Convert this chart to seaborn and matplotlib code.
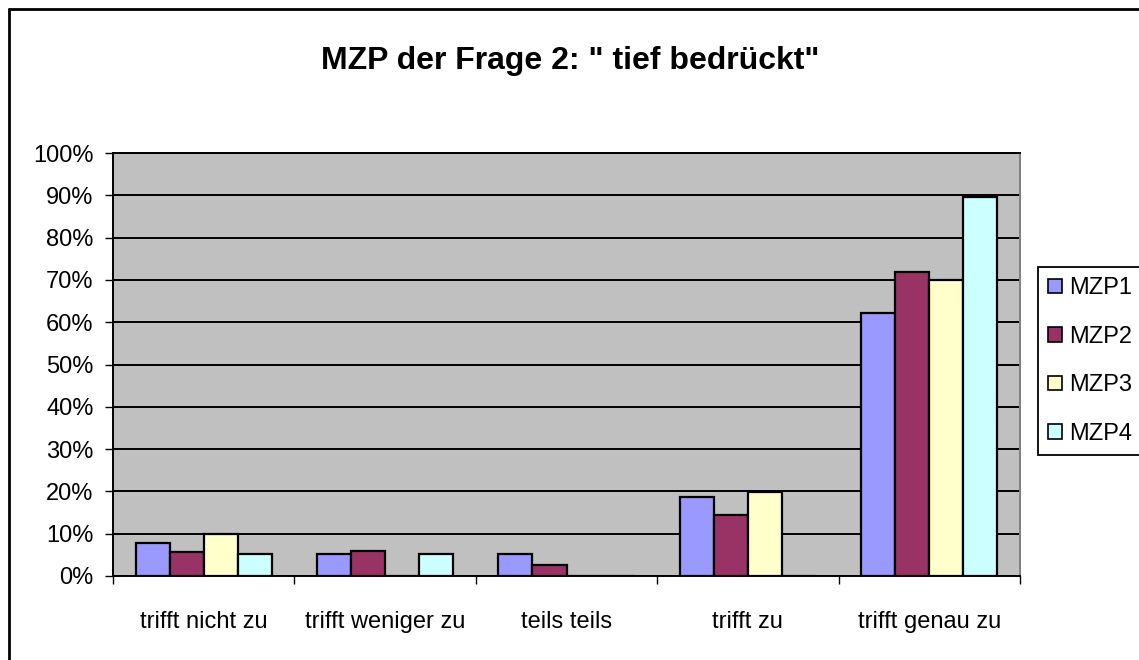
import seaborn as sns
import matplotlib.pyplot as plt
import matplotlib.patches as mpatches
import matplotlib.lines as mlines
import pandas as pd
import numpy as np

# Data (percent)
categories = ['trifft nicht zu', 'trifft weniger zu', 'teils teils', 'trifft zu', 'trifft genau zu']
series = ['MZP1', 'MZP2', 'MZP3', 'MZP4']
mzp1 = [7.9, 5.3, 5.3, 18.7, 62.2]
mzp2 = [5.7, 5.8, 2.5, 14.4, 71.9]
mzp3 = [10.0, 0.0, 0.0, 19.8, 70.0]
mzp4 = [5.3, 5.3, 0.0, 0.0, 89.6]
colors = ['#9999FF', '#993366', '#FFFFCC', '#CCFFFF']

df = pd.DataFrame({
    'Antwort': categories * 4,
    'MZP': [s for s in series for _ in categories],
    'Wert': mzp1 + mzp2 + mzp3 + mzp4,
})

sns.set_style('white')
plt.rcParams['font.family'] = ['Liberation Sans', 'DejaVu Sans']
plt.rcParams['text.color'] = 'black'
plt.rcParams['xtick.color'] = 'black'
plt.rcParams['ytick.color'] = 'black'

fig = plt.figure(figsize=(11.39, 6.6), dpi=100)
ax = fig.add_axes([113 / 1139, 84 / 660, 907 / 1139, 423 / 660])
ax.set_facecolor('#C0C0C0')

sns.barplot(data=df, x='Antwort', y='Wert', hue='MZP', order=categories,
            hue_order=series, palette=colors, saturation=1, width=0.75, gap=0,
            edgecolor='black', linewidth=1.6, ax=ax, legend=False, zorder=3)

# y axis
ax.set_ylim(0, 100)
ax.set_yticks(np.arange(0, 101, 10))
ax.set_yticklabels([f'{v}%' for v in range(0, 101, 10)], fontsize=17)
ax.yaxis.grid(True, color='black', linewidth=1.4, zorder=1)
ax.set_axisbelow(True)
ax.tick_params(axis='y', direction='out', length=6, width=1, color='black', left=True, pad=8)

# x axis: labels centered, tick marks between categories
ax.set_xlim(-0.5, len(categories) - 0.5)
ax.set_xticks(range(len(categories)))
ax.set_xticklabels(categories, fontsize=17)
ax.set_xticks(np.arange(-0.5, len(categories), 1), minor=True)
ax.tick_params(axis='x', which='major', length=0, pad=25)
ax.tick_params(axis='x', which='minor', direction='out', length=6, width=1, color='black', bottom=True)
ax.set_xlabel('')
ax.set_ylabel('')

for side in ['left', 'bottom', 'top']:
    ax.spines[side].set_color('black')
    ax.spines[side].set_linewidth(1.4)
ax.spines['right'].set_color('#808080')
ax.spines['right'].set_linewidth(1.4)

fig.text(570 / 1139, 1 - 61 / 660, 'MZP der Frage 2: " tief bedrückt"',
         ha='center', va='center', fontsize=23, fontweight='bold', color='black')

handles = [mpatches.Patch(facecolor=c, edgecolor='black', linewidth=1.2, label=s)
           for c, s in zip(colors, series)]
leg = fig.legend(handles=handles, loc='center left',
                 bbox_to_anchor=(1038 / 1139, 1 - 361 / 660), fontsize=17,
                 frameon=True, fancybox=False, edgecolor='black', framealpha=1,
                 handlelength=0.58, handleheight=0.58, handletextpad=0.3,
                 labelspacing=1.12, borderpad=0.42, borderaxespad=0)
leg.get_frame().set_linewidth(1.3)

# outer chart border (only left and top edges are inside the picture)
x0, y0 = 8.5 / 1139, 1 - 9 / 660
fig.add_artist(mlines.Line2D([x0, x0], [0, y0], transform=fig.transFigure,
                             color='black', linewidth=2))
fig.add_artist(mlines.Line2D([x0, 1], [y0, y0], transform=fig.transFigure,
                             color='black', linewidth=2))

fig.savefig('out.png', dpi=100)
